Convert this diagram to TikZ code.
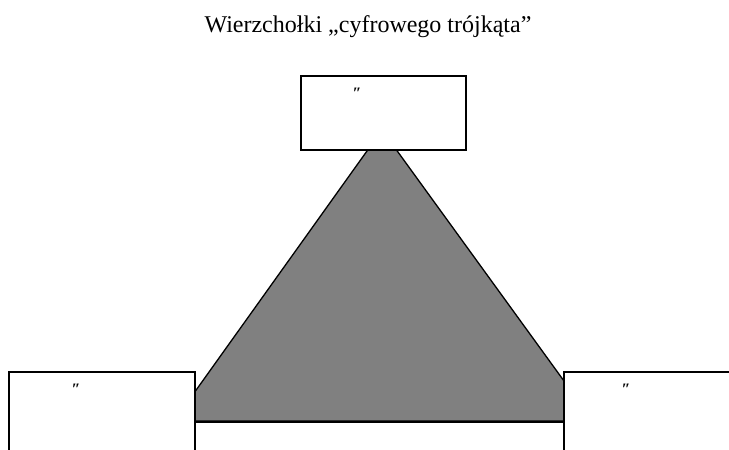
\documentclass[tikz,border=0pt]{standalone}
\usepackage{fontspec}
\setmainfont{Liberation Serif}
\definecolor{trigray}{HTML}{808080}
\begin{document}
\begin{tikzpicture}[x=1pt,y=-1pt,
  box/.style={draw=black,fill=white,line width=1.6pt,inner sep=0pt,anchor=north west},
  quotemark/.style={font=\fontsize{16}{16}\selectfont\bfseries\itshape,inner sep=0pt},
  tri/.style={draw=black,fill=trigray,line width=1.3pt,line join=miter}]
\clip (0,0) rectangle (729,450);
\fill[white] (0,0) rectangle (729,450);
\node[font=\fontsize{24}{28}\selectfont,anchor=base] (title) at (368,32) {Wierzchołki „cyfrowego trójkąta”};
\coordinate (apex) at (382,130);
\coordinate (bl) at (174,421);
\coordinate (br) at (593,421);
\draw[tri] (apex) -- (bl) -- (br) -- cycle;
\node[box,minimum width=165pt,minimum height=74pt] (top) at (300,75) {};
\node[box,minimum width=186pt,minimum height=110pt] (left) at (8,371) {};
\node[box,minimum width=240pt,minimum height=110pt] (right) at (563,371) {};
\node[box,minimum width=369pt,minimum height=60pt] (bottom) at (194,421) {};
\node[quotemark] (mtop) at (357,93) {″};
\node[quotemark] (mleft) at (76,389) {″};
\node[quotemark] (mright) at (626,389) {″};
\end{tikzpicture}
\end{document}
